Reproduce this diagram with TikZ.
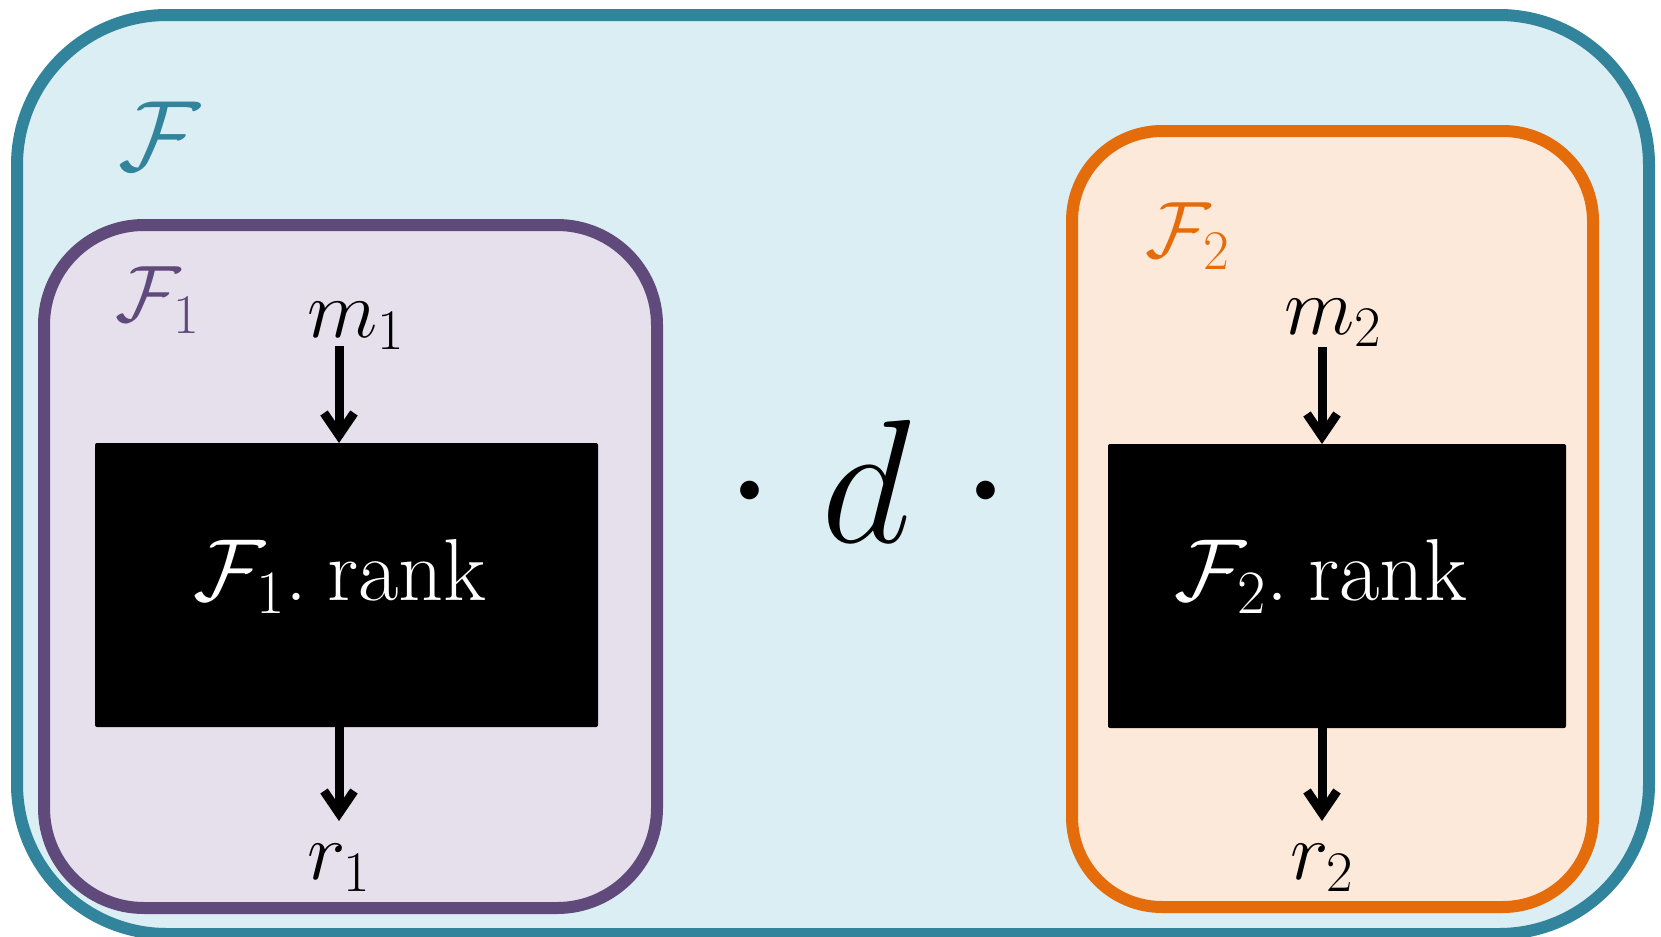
\documentclass[tikz,border=0pt]{standalone}
\usepackage{fix-cm}
\usetikzlibrary{arrows.meta,fit}
\definecolor{tealc}{HTML}{31849B}
\definecolor{tealfill}{HTML}{DAEEF3}
\definecolor{purc}{HTML}{604A7B}
\definecolor{purfill}{HTML}{E5E0EC}
\definecolor{orc}{HTML}{E46C0A}
\definecolor{orfill}{HTML}{FDE9D9}
\tikzset{
  box/.style={inner sep=0pt, outer sep=0pt, line width=6pt},
  outerbox/.style={box, draw=tealc, fill=tealfill, rounded corners=75pt},
  purbox/.style={box, draw=purc, fill=purfill, rounded corners=50pt},
  orbox/.style={box, draw=orc, fill=orfill, rounded corners=45pt},
  blackbox/.style={inner sep=0pt, outer sep=0pt, fill=black, rounded corners=1pt},
  lbl/.style={inner sep=0pt, anchor=base west, font=\fontsize{41}{49}\selectfont},
  ranktxt/.style={lbl, text=white, font=\fontsize{44}{52}\selectfont},
  bigtxt/.style={inner sep=0pt, anchor=base, font=\fontsize{88}{100}\selectfont},
  arr/.style={line width=4.5pt, -{Straight Barb[length=11pt,width=15pt]}}
}
\begin{document}
\begin{tikzpicture}[x=0.5pt,y=-0.5pt]
\useasboundingbox (0,0) rectangle (1661,937);
% containers
\node[outerbox, fit={(17,15) (1649,934)}] (F) {};
\node[purbox, fit={(44,225) (657,908)}] (F1) {};
\node[orbox, fit={(1072,131) (1593,907)}] (F2) {};
% container labels
\node[inner sep=0pt, text=tealc, font=\fontsize{50}{60}\selectfont] (Flab) at (159,136) {$\mathcal{F}$};
\node[inner sep=0pt, text=purc, font=\fontsize{40}{48}\selectfont] (F1lab) at (158,300) {$\mathcal{F}_1$};
\node[inner sep=0pt, text=orc, font=\fontsize{40}{48}\selectfont] (F2lab) at (1188,236) {$\mathcal{F}_2$};
% black boxes
\node[blackbox, fit={(95,443) (598,727)}] (b1) {};
\node[blackbox, fit={(1108,444) (1566,728)}] (b2) {};
\node[ranktxt] (t1) at (193,600) {$\mathcal{F}_1$.\hspace{0.22em}rank};
\node[ranktxt] (t2) at (1174,600) {$\mathcal{F}_2$.\hspace{0.22em}rank};
% inputs / outputs
\node[lbl] (m1) at (307,337) {$m_1$};
\node[lbl] (m2) at (1284,334) {$m_2$};
\node[lbl] (r1) at (307,879) {$r_1$};
\node[lbl] (r2) at (1290,879) {$r_2$};
\coordinate (m1s) at (339,346);
\coordinate (m2s) at (1322,347);
\coordinate (r1e) at (339,821);
\coordinate (r2e) at (1322,821);
\draw[arr] (m1s) -- (m1s |- b1.north);
\draw[arr] (m2s) -- (m2s |- b2.north);
\draw[arr] (r1e |- b1.south) -- (r1e);
\draw[arr] (r2e |- b2.south) -- (r2e);
% middle
\node[bigtxt] (dot1) at (750,534) {$\cdot$};
\node[bigtxt] (d) at (866,542) {$d$};
\node[bigtxt] (dot2) at (986,534) {$\cdot$};
\end{tikzpicture}
\end{document}
